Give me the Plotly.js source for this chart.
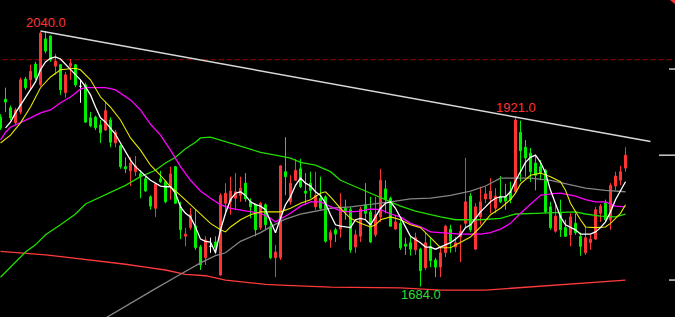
<!DOCTYPE html>
<html>
<head>
<meta charset="utf-8">
<script src="https://cdn.plot.ly/plotly-3.0.1.min.js"></script>
<style>html,body{margin:0;padding:0;background:#000;}#chart{width:675px;height:317px;}</style>
</head>
<body>
<div id="chart"></div>
<script>
// ---- candle data (one candle per session, left to right) ----
const open  = [1920,1945,1933,1912,1927,1973,1972,1994,1965,2029,2033,1991,1993,1954,1991,1993,1963,1965,1919,1920,1909,1902,1916,1884,1880,1851,1845,1844,1841,1834,1809,1793,1834,1830,1823,1851,1795,1754,1766,1768,1739,1724,1740,1746,1700,1800,1802,1807,1811,1828,1802,1798,1766,1798,1767,1724,1724,1844,1802,1832,1848,1817,1828,1795,1807,1809,1749,1763,1764,1793,1791,1739,1754,1798,1788,1756,1781,1820,1807,1764,1772,1743,1745,1735,1736,1710,1740,1721,1711,1731,1764,1739,1753,1772,1810,1736,1781,1806,1806,1793,1809,1809,1816,1816,1899,1878,1870,1856,1851,1846,1795,1761,1786,1766,1756,1772,1754,1731,1745,1750,1786,1800,1777,1824,1832,1849];
const high  = [1924,1961,1936,1933,1975,1976,1993,1997,2039,2040,2034,2008,1994,1983,2001,1994,1972,1968,1927,1922,1916,1942,1920,1902,1882,1864,1864,1866,1846,1837,1811,1828,1845,1832,1851,1852,1802,1766,1793,1791,1742,1754,1752,1754,1814,1828,1837,1842,1837,1842,1807,1800,1802,1800,1774,1742,1853,1892,1839,1862,1862,1842,1844,1844,1837,1811,1763,1766,1814,1805,1795,1763,1795,1828,1809,1809,1848,1832,1809,1784,1777,1752,1753,1759,1738,1759,1753,1724,1738,1770,1770,1753,1770,1863,1814,1800,1823,1823,1835,1821,1838,1827,1830,1921,1915,1888,1877,1867,1860,1848,1802,1798,1805,1777,1786,1786,1759,1768,1756,1795,1799,1805,1828,1844,1852,1878];
const low   = [1902,1927,1916,1909,1924,1958,1958,1972,1963,2009,1997,1979,1951,1947,1972,1962,1940,1912,1906,1902,1884,1901,1878,1878,1848,1842,1824,1838,1807,1816,1791,1781,1828,1800,1805,1799,1750,1740,1763,1735,1707,1714,1731,1729,1699,1784,1784,1791,1802,1802,1779,1754,1763,1763,1722,1697,1721,1811,1798,1831,1821,1798,1807,1791,1791,1745,1738,1746,1752,1777,1731,1731,1746,1777,1745,1753,1774,1786,1767,1763,1735,1728,1727,1728,1684,1707,1711,1697,1697,1725,1731,1732,1718,1767,1760,1735,1770,1800,1786,1786,1800,1791,1800,1814,1830,1837,1830,1818,1832,1786,1763,1759,1753,1753,1740,1756,1727,1728,1735,1749,1774,1774,1763,1818,1825,1844];
const close = [1905,1941,1919,1930,1972,1961,1984,1975,2037,2012,2000,1998,1958,1979,1995,1965,1963,1913,1908,1905,1898,1929,1885,1899,1851,1848,1856,1852,1837,1817,1796,1827,1830,1802,1841,1800,1763,1757,1784,1738,1714,1749,1740,1738,1811,1814,1817,1816,1821,1806,1795,1763,1800,1770,1724,1732,1852,1837,1828,1846,1823,1814,1818,1811,1793,1747,1759,1757,1795,1788,1735,1756,1792,1786,1746,1784,1832,1805,1768,1774,1738,1740,1736,1752,1706,1745,1720,1711,1731,1768,1747,1745,1761,1802,1763,1795,1802,1813,1817,1810,1802,1803,1805,1916,1873,1863,1844,1839,1842,1788,1766,1782,1763,1754,1781,1759,1740,1752,1750,1791,1796,1777,1825,1838,1844,1867];

// ---- moving averages (candle index, price) ----
const ma5Idx = Array.from({length:125},(_, k) => k + 1);
const ma5 = [1905,1913,1926,1937,1947,1958,1969,1986,1997,2002,2004,2001,1994,1986,1980,1972,1962,1951,1934,1919,1913,1905,1896,1884,1871,1860,1851,1844,1838,1832,1828,1824,1823,1823,1814,1795,1786,1781,1767,1750,1747,1746,1731,1763,1786,1805,1814,1816,1811,1802,1798,1796,1791,1774,1759,1779,1798,1809,1825,1835,1828,1824,1816,1811,1800,1784,1770,1768,1767,1766,1777,1779,1777,1770,1781,1793,1800,1802,1793,1781,1767,1754,1750,1745,1739,1739,1736,1739,1742,1745,1750,1756,1766,1770,1779,1788,1795,1802,1807,1809,1809,1816,1831,1845,1857,1864,1867,1857,1842,1818,1800,1781,1770,1767,1763,1757,1757,1757,1760,1766,1774,1788,1805,1818,1830];

const ma10Idx = [0,2,4,6,8,10,12,14,15,16,18,20,22,24,26,28,30,32,34,36,38,40,42,44,45,46,48,50,52,54,56,58,60,62,63,64,65,66,68,70,72,74,75,76,78,80,82,84,86,88,90,92,94,96,98,100,102,103,104,106,108,110,112,113,114,116,117,119,121,122,123,124,125];
const ma10 = [1884,1895,1912,1934,1961,1976,1986,1988,1988,1986,1972,1948,1934,1916,1891,1874,1853,1839,1823,1811,1798,1786,1772,1763,1760,1767,1777,1784,1788,1788,1788,1793,1800,1805,1809,1814,1816,1809,1793,1779,1772,1767,1770,1777,1781,1777,1770,1766,1752,1738,1738,1745,1753,1767,1784,1793,1805,1814,1827,1839,1842,1837,1830,1818,1800,1777,1767,1766,1767,1772,1779,1786,1798];

const ma20Idx = [0,1,2,4,6,8,10,12,14,16,17,21,23,26,28,30,32,34,36,38,40,42,44,46,48,50,52,54,55,56,58,60,62,64,66,68,70,72,74,76,78,80,82,84,86,88,92,96,98,100,102,104,106,108,110,112,115,117,119,121,123,125];
const ma20 = [1888,1899,1906,1912,1919,1926,1930,1940,1948,1959,1961,1961,1958,1944,1930,1910,1895,1874,1851,1832,1817,1807,1798,1793,1791,1788,1786,1779,1774,1778,1786,1796,1802,1802,1795,1789,1788,1789,1792,1791,1785,1781,1772,1767,1760,1759,1757,1757,1759,1764,1772,1786,1798,1811,1813,1814,1810,1805,1802,1802,1796,1795];

const ma60Idx = [0,2,5,7,9,12,15,17,20,23,25,28,31,33,35,37,39,40,41,42,43,46,49,52,55,58,60,63,66,68,71,74,77,80,83,86,88,91,96,100,103,107,115,117,120,123,125];
const ma60 = [1697,1711,1732,1742,1756,1770,1785,1799,1809,1818,1825,1837,1846,1856,1864,1876,1885,1891,1892,1892,1890,1884,1878,1871,1867,1863,1857,1853,1844,1832,1823,1814,1805,1796,1789,1784,1781,1777,1777,1779,1785,1786,1788,1785,1782,1781,1785];

const ma120Idx = [21,27,31,36,40,43,45,48,52,54,57,60,63,66,70,74,78,82,86,90,94,97,100,101,106,110,113,117,121,125];
const ma120 = [1640,1665,1681,1701,1717,1727,1731,1747,1759,1767,1778,1785,1789,1793,1795,1798,1802,1806,1807,1811,1817,1824,1835,1835,1835,1832,1827,1821,1818,1816];

const ma250Idx = [0,4,9,13,17,21,25,29,33,37,41,45,49,53,56,66,80,88,97,103,107,113,119,123,125];
const ma250 = [1733,1731,1728,1725,1722,1718,1715,1711,1707,1701,1699,1693,1690,1687,1686,1683,1682,1679,1679,1682,1685,1687,1690,1692,1693];

// ---- drawn lines and marks ----
const trendIdx = [8, 130];
const trendVal = [2040, 1886];
const dashLevel = 2000;
const rightMarks = [1987, 1867, 1693];
const rightMarkLen = [6, 16, 6];

// ---- colours ----
const RED = '#ff3535', GREEN = '#00ee00', DOJI = '#ffffff';

const idx = close.map((_, i) => i);
function group(cond) {
  const g = {x: [], base: [], h: [], wx: [], wy: []};
  idx.forEach(i => {
    if (!cond(i)) return;
    const lo = Math.min(open[i], close[i]), hi = Math.max(open[i], close[i]);
    g.x.push(i); g.base.push(lo); g.h.push(Math.max(hi - lo, 0.01));
    g.wx.push(i, i, null); g.wy.push(low[i], high[i], null);
  });
  return g;
}
const up = group(i => close[i] > open[i]);
const down = group(i => close[i] < open[i]);
const flat = group(i => close[i] === open[i]);

function wick(g, color) {
  return {type: 'scatter', mode: 'lines', x: g.wx, y: g.wy, line: {color: color, width: 1}, hoverinfo: 'skip', connectgaps: false};
}
function body(g, fill, color) {
  return {type: 'bar', x: g.x, y: g.h, base: g.base, width: 0.4,
    marker: {color: fill, line: {color: color, width: 1}}, hoverinfo: 'skip'};
}

const traces = [
  wick(up, RED), wick(down, GREEN), wick(flat, DOJI),
  body(up, '#000000', RED), body(down, GREEN, GREEN), body(flat, DOJI, DOJI),
  {type: 'scatter', mode: 'lines', x: ma250Idx, y: ma250, line: {color: '#ff3a3a', width: 1.3}, hoverinfo: 'skip'},
  {type: 'scatter', mode: 'lines', x: ma120Idx, y: ma120, line: {color: '#858585', width: 1.3}, hoverinfo: 'skip'},
  {type: 'scatter', mode: 'lines', x: ma60Idx, y: ma60, line: {color: '#22dd00', width: 1.3}, hoverinfo: 'skip'},
  {type: 'scatter', mode: 'lines', x: ma20Idx, y: ma20, line: {color: '#ff00ff', width: 1.3}, hoverinfo: 'skip'},
  {type: 'scatter', mode: 'lines', x: ma10Idx, y: ma10, line: {color: '#e8e800', width: 1.1}, hoverinfo: 'skip'},
  {type: 'scatter', mode: 'lines', x: ma5Idx, y: ma5, line: {color: '#ffffff', width: 1.3}, hoverinfo: 'skip'},
  {type: 'scatter', mode: 'lines', x: trendIdx, y: trendVal, line: {color: '#d8d8d8', width: 1.5}, hoverinfo: 'skip'}
];

// extremes for labels
let hiI = 0, loI = 0;
idx.forEach(i => { if (high[i] > high[hiI]) hiI = i; if (low[i] < low[loI]) loI = i; });
let hi2I = 60;
for (let i = 60; i < high.length; i++) if (high[i] > high[hi2I]) hi2I = i;

const lblFont = (c) => ({family: 'Liberation Sans, Arial, sans-serif', size: 13, color: c});
const annotations = [
  {x: hiI, y: high[hiI], text: high[hiI].toFixed(1), showarrow: false, yanchor: 'middle', yshift: 9, font: lblFont(RED)},
  {x: hi2I, y: high[hi2I], text: high[hi2I].toFixed(1), showarrow: false, yanchor: 'middle', yshift: 9, font: lblFont(RED)},
  {x: loI, y: low[loI], text: low[loI].toFixed(1), showarrow: false, yanchor: 'middle', yshift: -8, font: lblFont('#33dd33')}
];

const shapes = [
  {type: 'line', xref: 'paper', yref: 'y', x0: 0.004, x1: 1, y0: dashLevel, y1: dashLevel,
   line: {color: '#a00000', width: 1, dash: '5px,3px'}, layer: 'below'}
];
rightMarks.forEach((v, k) => shapes.push({type: 'line', xref: 'paper', yref: 'y',
  x0: 1 - rightMarkLen[k] / 675, x1: 1, y0: v, y1: v, line: {color: '#ffffff', width: 1.2}}));
shapes.push({type: 'path', xref: 'paper', yref: 'paper',
  path: 'M 0.9926 1 L 1 1 L 1 0.987 Z', fillcolor: RED, line: {width: 0}});

const layout = {
  width: 675, height: 317,
  margin: {l: 0, r: 0, t: 0, b: 0, pad: 0},
  paper_bgcolor: '#000000', plot_bgcolor: '#000000',
  showlegend: false, hovermode: false,
  barmode: 'overlay',
  xaxis: {range: [-0.1, 134.9], visible: false, showgrid: false, zeroline: false, fixedrange: true},
  yaxis: {range: [1641.5, 2083.2], visible: false, showgrid: false, zeroline: false, fixedrange: true},
  annotations: annotations,
  shapes: shapes
};

Plotly.newPlot('chart', traces, layout, {displayModeBar: false, staticPlot: true});
</script>
</body>
</html>
